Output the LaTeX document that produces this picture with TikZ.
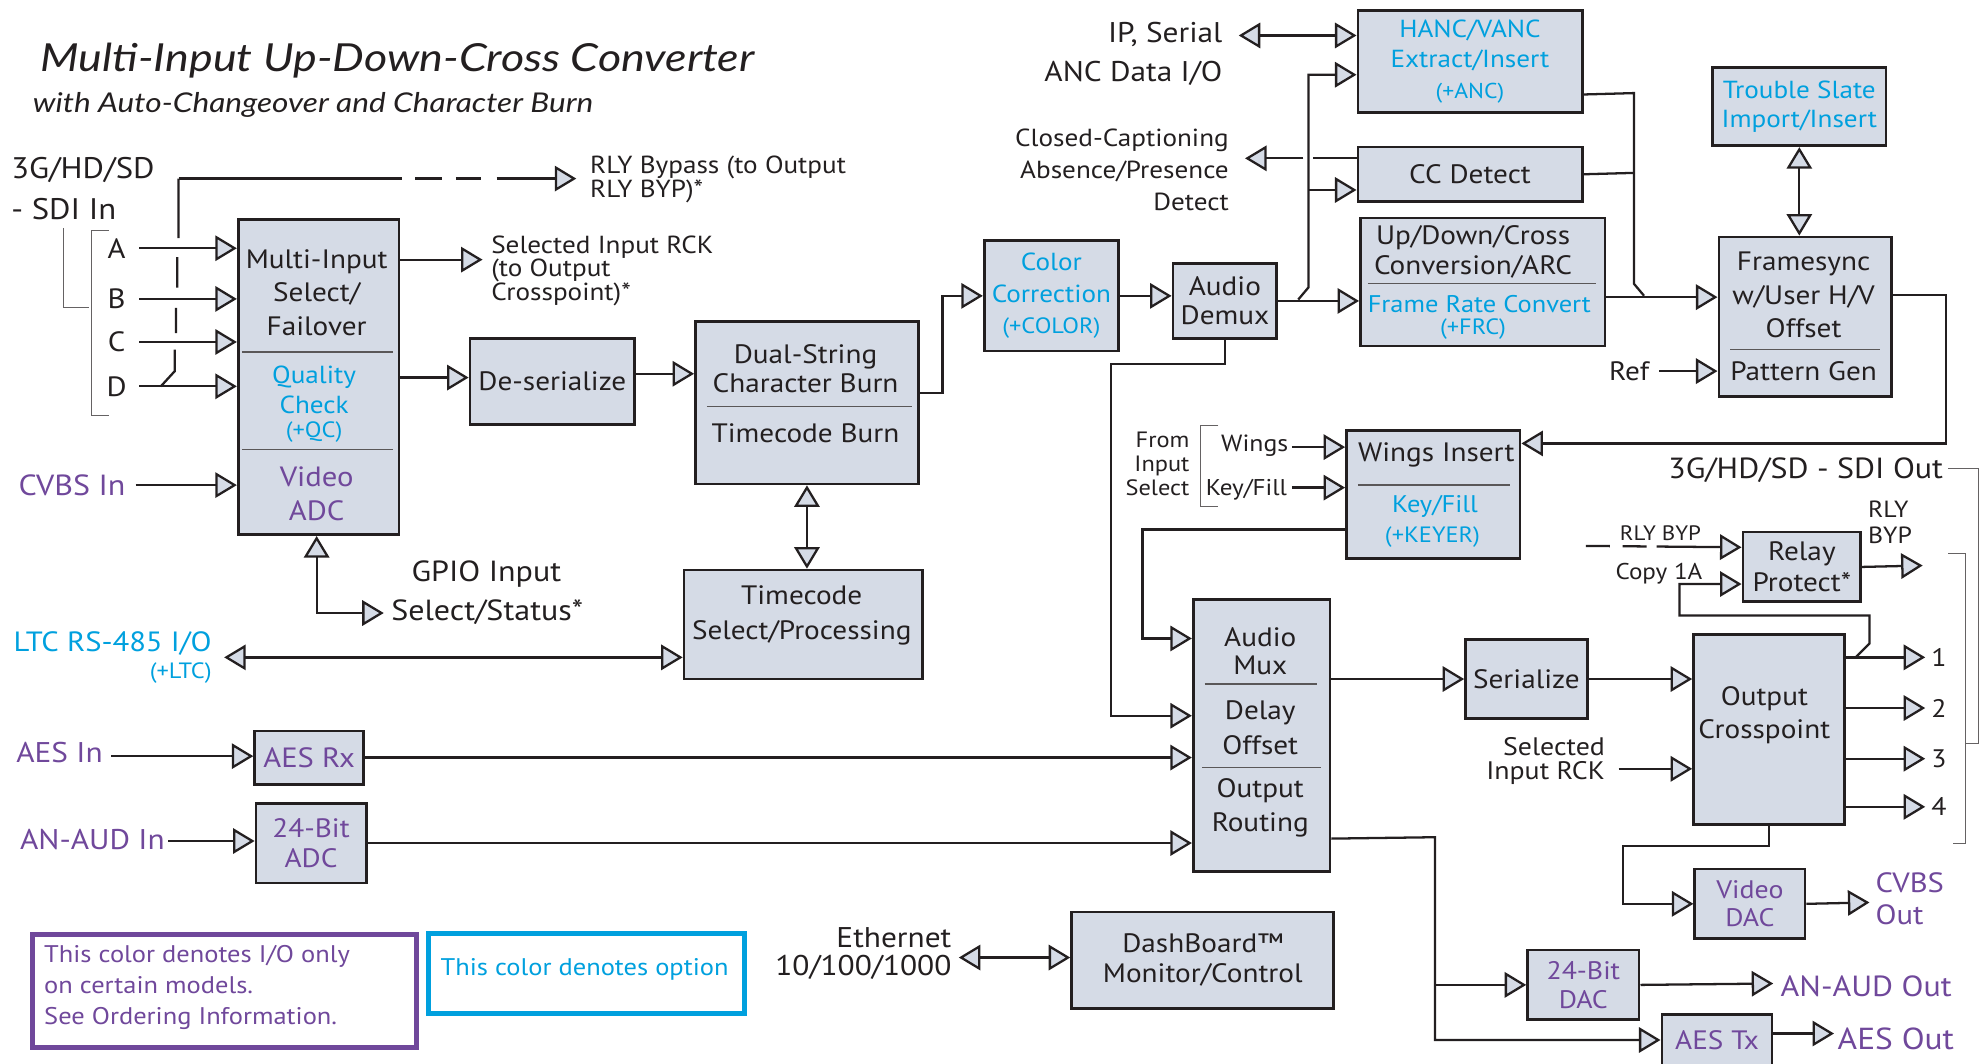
\documentclass[tikz,border=0pt]{standalone}
\usepackage{fontspec}
\setmainfont{PT Sans}[FakeStretch=1.1]
\newfontfamily\titlefont{Lato}[FakeStretch=1.16]
\usetikzlibrary{arrows.meta}

\definecolor{boxc}{RGB}{213,219,230}
\definecolor{linec}{RGB}{35,31,32}
\definecolor{optc}{RGB}{0,160,222}
\definecolor{ioc}{RGB}{112,72,155}

\tikzset{
  blk/.style={draw=linec, line width=2.2pt, fill=boxc, anchor=north west, inner sep=0pt,
    align=center, font=\fontsize{21}{24}\selectfont},
  bt/.style={inner sep=0pt, align=center, font=\fontsize{21}{25}\selectfont},
  ot/.style={bt, text=optc, font=\fontsize{19.5}{24}\selectfont},
  iot/.style={bt, text=ioc},
  sm/.style={font=\fontsize{17.5}{20}\selectfont},
  lbl/.style={inner sep=0pt, font=\fontsize{22.5}{26}\selectfont},
  sepl/.style={line width=1pt, draw=linec!75},
  brk/.style={line width=1pt, draw=linec!70}
}

\begin{document}
\begin{tikzpicture}[x=1pt, y=-1pt, line width=1.8pt, color=linec,
    >={Triangle[length=17pt, width=20pt, fill=boxc]}]
\useasboundingbox (0,0) rectangle (1568,840);

% Titles
\node[anchor=west, inner sep=0pt, font=\titlefont\itshape\fontsize{30.5}{36}\selectfont] (title) at (31,48) {Multi-Input Up-Down-Cross Converter};
\node[anchor=west, inner sep=0pt, font=\titlefont\itshape\fontsize{21.5}{26}\selectfont] (subtitle) at (25,83) {with Auto-Changeover and Character Burn};

% Boxes
\node[blk, minimum width=127pt, minimum height=249pt] (mis) at (187,172) {};
\node[blk, minimum width=130pt, minimum height=68pt] (deser) at (370,266) {De-serialize};
\node[blk, minimum width=176pt, minimum height=128pt] (dual) at (548,253) {};
\node[blk, minimum width=188pt, minimum height=86pt] (tcsel) at (539,449) {};
\node[blk, minimum width=106pt, minimum height=87pt, text=optc, font=\fontsize{19.5}{25}\selectfont] (colr) at (776,189) {Color\\Correction\\{\fontsize{17.5}{18}\selectfont(+COLOR)}};
\node[blk, minimum width=82pt, minimum height=59pt, font=\fontsize{21}{23}\selectfont] (demux) at (925,207) {Audio\\Demux};
\node[blk, minimum width=177pt, minimum height=81pt, text=optc, font=\fontsize{19.5}{24}\selectfont] (hanc) at (1071,7) {HANC/VANC\\Extract/Insert\\{\fontsize{17}{18}\selectfont(+ANC)}};
\node[blk, minimum width=177pt, minimum height=43pt] (ccdet) at (1071,115) {CC Detect};
\node[blk, minimum width=193pt, minimum height=101pt] (udc) at (1073,171) {};
\node[blk, minimum width=137pt, minimum height=62pt, text=optc, font=\fontsize{19.5}{23}\selectfont] (slate) at (1351,52) {Trouble Slate\\Import/Insert};
\node[blk, minimum width=136pt, minimum height=126pt] (fsync) at (1356,186) {};
\node[blk, minimum width=137pt, minimum height=101pt] (wings) at (1062,339) {};
\node[blk, minimum width=108pt, minimum height=215pt] (amux) at (941,472) {};
\node[blk, minimum width=96pt, minimum height=62pt] (serial) at (1156,504) {Serialize};
\node[blk, minimum width=119pt, minimum height=150pt] (oxp) at (1336,500) {};
\node[blk, minimum width=93pt, minimum height=55pt] (relay) at (1375,419) {Relay\\Protect*};
\node[blk, minimum width=87pt, minimum height=55pt, text=ioc, font=\fontsize{20}{22}\selectfont] (vdac) at (1337,685) {Video\\DAC};
\node[blk, minimum width=88pt, minimum height=55pt, text=ioc, font=\fontsize{20}{23}\selectfont] (dac) at (1205,749) {24-Bit\\DAC};
\node[blk, minimum width=87pt, minimum height=40pt, text=ioc] (aestx) at (1311,800) {AES Tx};
\node[blk, minimum width=86pt, minimum height=42pt, text=ioc, font=\fontsize{22}{24}\selectfont] (aesrx) at (200,576) {AES Rx};
\node[blk, minimum width=87pt, minimum height=63pt, text=ioc] (adc) at (201,633) {24-Bit\\ADC};
\node[blk, minimum width=207pt, minimum height=76pt] (dash) at (845,719) {DashBoard™\\Monitor/Control};

% Texts of the boxes with sections
\node[bt, font=\fontsize{21}{26.5}\selectfont] (misA) at (250,231) {Multi-Input\\Select/\\Failover};
\draw[sepl] (191,278) -- (310,278);
\node[ot] (misB) at (248,308) {Quality\\Check};
\node[ot, sm] (misC) at (248,341) {(+QC)};
\draw[sepl] (191,355) -- (310,355);
\node[iot, font=\fontsize{22}{27}\selectfont] (misD) at (250,390) {Video\\ADC};

\node[bt, font=\fontsize{21}{23}\selectfont] (dualA) at (636,291) {Dual-String\\Character Burn};
\draw[sepl] (558,321) -- (720,321);
\node[bt] (dualB) at (636,342) {Timecode Burn};

\node[bt, font=\fontsize{21}{28}\selectfont] (tcA) at (633,486) {Timecode\\Select/Processing};

\node[bt, font=\fontsize{21}{24}\selectfont] (udcA) at (1163,199) {Up/Down/Cross\\Conversion/ARC};
\draw[sepl] (1080,224) -- (1260,224);
\node[ot, font=\fontsize{19}{24}\selectfont] (udcB) at (1168,240) {Frame Rate Convert};
\node[ot, sm] (udcC) at (1163,260) {(+FRC)};

\node[bt, font=\fontsize{21}{26.5}\selectfont] (fsA) at (1424,233) {Framesync\\w/User H/V\\Offset};
\draw[sepl] (1366,276) -- (1484,276);
\node[bt] (fsB) at (1424,293) {Pattern Gen};

\node[bt] (wgA) at (1134,359) {Wings Insert};
\draw[sepl] (1072,383) -- (1192,383);
\node[ot, font=\fontsize{19}{24}\selectfont] (wgB) at (1133,400) {Key/Fill};
\node[ot, sm] (wgC) at (1131,424) {(+KEYER)};

\node[bt, font=\fontsize{21}{22}\selectfont] (amA) at (995,514) {Audio\\Mux};
\draw[sepl] (951,540) -- (1040,540);
\node[bt, font=\fontsize{21}{27}\selectfont] (amB) at (995,574.5) {Delay\\Offset};
\draw[sepl] (949,606) -- (1043,606);
\node[bt, font=\fontsize{21}{27}\selectfont] (amC) at (995,637.5) {Output\\Routing};

\node[bt, font=\fontsize{21}{26}\selectfont] (oxpA) at (1393,565) {Output\\Crosspoint};

% SDI inputs
\node[lbl, anchor=west, align=left, font=\fontsize{23.5}{32}\selectfont] (sdiin) at (8,149) {3G/HD/SD\\- SDI In};
\draw[brk] (50,180) -- (50,243) -- (70,243);
\draw[brk] (86,182) -- (72,182) -- (72,328) -- (86,328);
\foreach \n/\y in {A/196,B/236,C/270,D/305} {
  \coordinate (in\n) at (110,\y);
  \node[lbl, font=\fontsize{22}{26}\selectfont] (let\n) at (92,\y) {\n};
  \draw[->] (in\n) -- (in\n -| mis.west);
}

% Relay bypass tap
\coordinate (byp) at (141,141);
\coordinate (bypend) at (455,141);
\draw (byp) -- (141,188) (140,203) -- (140,227) (139,243) -- (139,263) (138,276) -- (138,293) -- (127,305);
\draw[->, dash pattern=on 176pt off 11pt on 21pt off 11pt on 20pt off 12pt on 120pt] (byp) -- (bypend);
\node[lbl, anchor=west, align=left, font=\fontsize{19.5}{19}\selectfont] (bypl) at (465,141.5) {RLY Bypass (to Output\\RLY BYP)*};

\coordinate (rck) at (381,205);
\draw[->] (rck -| mis.east) -- (rck);
\node[lbl, anchor=west, align=left, font=\fontsize{19.5}{18}\selectfont] (rckl) at (387,214) {Selected Input RCK\\(to Output\\Crosspoint)*};

% CVBS and GPIO
\coordinate (cvbsin) at (107,383);
\node[lbl, anchor=east, text=ioc, font=\fontsize{23}{26}\selectfont] (cvbsl) at (100,383) {CVBS In};
\draw[->] (cvbsin) -- (cvbsin -| mis.west);
\coordinate (gpio) at (250,484);
\coordinate (gpioend) at (303,484);
\draw[<->] (gpio |- mis.south) -- (gpio) -- (gpioend);
\node[lbl, font=\fontsize{23}{26}\selectfont] (gpioA) at (384,453) {GPIO Input};
\node[lbl, anchor=west, font=\fontsize{23}{26}\selectfont] (gpioB) at (308,483) {Select/Status*};

% Video path
\draw[->] ([yshift=3pt]deser.west -| mis.east) -- ([yshift=3pt]deser.west);
\draw[->] ([yshift=6pt]deser.east) -- ([yshift=6pt]deser.east -| dual.west);
\draw[<->] (dual.south) -- (dual.south |- tcsel.north);
\draw[->] ([yshift=8pt]dual.east) -- ++(18,0) |- (colr.west);
\draw[->] (colr.east) -- (colr.east -| demux.west);
\draw[->] (demux.east) -- (demux.east -| udc.west);

% LTC
\coordinate (ltc) at (177,519);
\draw[<->] (ltc) -- (ltc -| tcsel.west);
\node[lbl, anchor=east, text=optc, font=\fontsize{22}{26}\selectfont] (ltcA) at (168,508) {LTC RS-485 I/O};
\node[lbl, anchor=east, text=optc, sm] (ltcB) at (168,531) {(+LTC)};

% ANC and captioning
\coordinate (tapA) at (1033,59);
\coordinate (tapC) at (1033,150);
\draw[->] (1025,236.5) -- (1033,227) -- (tapA) -- (tapA -| hanc.west);
\draw[->] (tapC) -- (tapC -| ccdet.west);
\coordinate (ipser) at (978,28);
\draw[<->] (ipser) -- (ipser -| hanc.west);
\node[lbl, anchor=east] (ipA) at (966,27) {IP, Serial};
\node[lbl, anchor=east] (ipB) at (966,58) {ANC Data I/O};
\coordinate (ccout) at (983,125);
\draw[->] (ccdet.west |- ccout) -- (1037,125) (1029,125) -- (ccout);
\node[lbl, anchor=east, align=right, font=\fontsize{19.5}{25}\selectfont] (ccl) at (971,134) {Closed-Captioning\\Absence/Presence\\Detect};
\draw ([yshift=-26pt]hanc.east) -- (1290,73.5) -- (1290,224) -- (1298,233.5);
\draw (ccdet.east) -- (1290,136.5);

% Framesync
\coordinate (fsin) at ([yshift=15.5pt]fsync.west);
\draw[->] (fsin -| udc.east) -- (fsin);
\coordinate (refin) at (1310,293);
\draw[->] (refin) -- (refin -| fsync.west);
\node[lbl, anchor=east, font=\fontsize{21}{24}\selectfont] (refl) at (1303,293) {Ref};
\draw[<->] (slate.south) -- (slate.south |- fsync.north);
\coordinate (fsout) at ([yshift=17pt]fsync.east);
\coordinate (wgin) at ([yshift=40.5pt]wings.east);
\draw[->] (fsout) -- ++(42,0) |- (wgin);

% Wings
\coordinate (wgw) at (1020,353);
\coordinate (wgk) at (1020,385);
\draw[->] (wgw) -- (wgw -| wings.west);
\draw[->] (wgk) -- (wgk -| wings.west);
\node[lbl, anchor=east, font=\fontsize{18.5}{20}\selectfont] (wgwl) at (1018,352) {Wings};
\node[lbl, anchor=east, font=\fontsize{18}{20}\selectfont] (wgkl) at (1017,387) {Key/Fill};
\node[lbl, anchor=east, align=right, font=\fontsize{17.5}{19}\selectfont] (froml) at (940,366) {From\\Input\\Select};
\draw[brk] (962,336) -- (948,336) -- (948,400) -- (962,400);

% Audio
\coordinate (wgout) at ([yshift=-27.5pt]wings.west);
\coordinate (amInA) at ([yshift=76.5pt]amux.west);
\coordinate (amInB) at ([yshift=15.5pt]amux.west);
\draw[->] (wgout) -- ++(-160,0) |- (amInA);
\draw[->] (demux.south) -- ++(0,19) -- ++(-90,0) |- (amInB);
\coordinate (aesin) at (88,597);
\coordinate (anin) at (133,664);
\draw[->] (aesin) -- (aesin -| aesrx.west);
\draw[->] (anin) -- (anin -| adc.west);
\node[lbl, anchor=west, text=ioc] (aesl) at (12,594) {AES In};
\node[lbl, anchor=west, text=ioc] (anl) at (15,663) {AN-AUD In};
\draw[->] (aesrx.east) -- (aesrx.east -| amux.west);
\draw[->] (adc.east) -- (adc.east -| amux.west);

% Output side
\draw[->] (serial.west -| amux.east) -- (serial.west);
\draw[->] (serial.east) -- (serial.east -| oxp.west);
\coordinate (rckin) at (1278,607);
\draw[->] (rckin) -- (rckin -| oxp.west);
\node[lbl, anchor=east, align=right, font=\fontsize{20}{19}\selectfont] (rckinl) at (1268,600.5) {Selected\\Input RCK};
\foreach \k/\y in {1/519,2/559,3/599,4/637} {
  \coordinate (o\k) at (1520,\y);
  \draw[->] (o\k -| oxp.east) -- (o\k);
  \node[lbl, anchor=west, font=\fontsize{20}{24}\selectfont] (num\k) at (1524,\y) {\k};
}
\coordinate (cpin) at ([yshift=-13.5pt]relay.west);
\draw[->] (1465,519) -- (1476,508) -- (1476,486) -- (1326,486) |- (cpin);
\node[lbl, anchor=east, font=\fontsize{18}{18}\selectfont] (cpl) at (1345,453) {Copy 1A};
\coordinate (rbin) at ([yshift=15.5pt]relay.west);
\coordinate (rbstart) at (1252,431);
\draw[->, dash pattern=on 19pt off 10pt on 19pt off 8pt on 90pt] (rbstart) -- (rbin);
\node[lbl, anchor=west, font=\fontsize{16.5}{18}\selectfont] (rbl) at (1278,421) {RLY BYP};
\coordinate (rbout) at (1518,446.5);
\draw[->] (relay.east) -- (rbout);
\node[lbl, anchor=west, align=left, font=\fontsize{18.5}{21}\selectfont] (rboutl) at (1474,412.5) {RLY\\BYP};
\node[lbl, anchor=east, font=\fontsize{23}{26}\selectfont] (sdioutl) at (1535,371) {3G/HD/SD - SDI Out};
\draw[brk] (1538,370) -- (1562,370) -- (1562,587) -- (1552,587);
\draw[brk] (1538,437) -- (1552,437) -- (1552,666) -- (1542,666);

\draw[->] (oxp.south) -- ++(0,16) -- ++(-115,0) |- (vdac.west);
\coordinate (cvout) at (1476,712.5);
\draw[->] (vdac.east) -- (cvout);
\node[lbl, anchor=west, align=left, text=ioc, font=\fontsize{22}{25}\selectfont] (cvoutl) at (1480,709.5) {CVBS\\Out};

\coordinate (amR) at ([yshift=-81.5pt]amux.east);
\coordinate (rtc) at (1133,661);
\draw[->] (amR) -- (rtc) |- (aestx.west);
\draw[->] (rtc |- dac.west) -- (dac.west);
\coordinate (anout) at (1400,776.5);
\draw[->] (dac.east) -- (anout);
\node[lbl, anchor=west, text=ioc, font=\fontsize{23}{26}\selectfont] (anoutl) at (1405,779) {AN-AUD Out};
\coordinate (aesout) at (1448,816);
\draw[->] (aestx.east |- aesout) -- (aesout);
\node[lbl, anchor=west, text=ioc, font=\fontsize{24}{26}\selectfont] (aesoutl) at (1450,820) {AES Out};

% Ethernet
\coordinate (eth) at (757,756);
\draw[<->] (eth) -- (eth -| dash.west);
\node[lbl, anchor=east] (ethA) at (752,740) {Ethernet};
\node[lbl, anchor=east] (ethB) at (752,764) {10/100/1000};

% Legend
\node[draw=ioc, line width=4pt, minimum width=303pt, minimum height=89pt, anchor=north west] (legio) at (24,736) {};
\node[lbl, anchor=west, align=left, text=ioc, font=\fontsize{19}{24.5}\selectfont] (legioT) at (34,780) {This color denotes I/O only\\on certain models.\\See Ordering Information.};
\node[draw=optc, line width=4pt, minimum width=250pt, minimum height=63pt, anchor=north west] (legopt) at (336,735) {};
\node[lbl, anchor=west, text=optc, font=\fontsize{19}{24}\selectfont] (legoptT) at (347,765) {This color denotes option};
\end{tikzpicture}
\end{document}
